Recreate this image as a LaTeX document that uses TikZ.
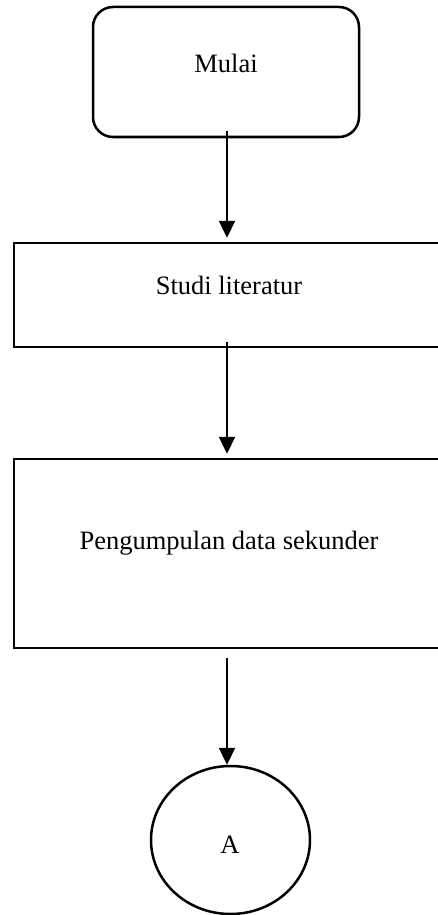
\documentclass[tikz,border=0pt]{standalone}
\usepackage{fontspec}
\setmainfont{Liberation Serif}
\usetikzlibrary{arrows.meta,shapes.geometric}
\begin{document}
\begin{tikzpicture}[x=1pt,y=-1pt,
  shp/.style={draw=black,line width=2.5pt,inner sep=0pt},
  txt/.style={inner sep=0pt,font=\fontsize{26.5}{30}\selectfont},
  arr/.style={draw=black,line width=2.3pt,-{Triangle[width=16pt,length=17pt]}}]
\useasboundingbox (0,0) rectangle (437,915);
\node[shp,rounded corners=20pt,minimum width=266pt,minimum height=130pt] (m) at (226,72) {};
\node[txt] (mt) at (226,63) {Mulai};
\node[shp,minimum width=426pt,minimum height=104pt] (s) at (227,295) {};
\node[txt] (st) at (229,285) {Studi literatur};
\node[shp,minimum width=426pt,minimum height=189pt] (p) at (227,553.5) {};
\node[txt] (pt) at (229,543) {Pengumpulan data sekunder};
\node[shp,ellipse,minimum width=159pt,minimum height=148pt] (a) at (230.5,840) {};
\node[txt] (at) at (230,845) {A};
\draw[arr] ([xshift=1pt,yshift=7pt]m.south) -- ([yshift=4pt]s.north);
\draw[arr] ([yshift=6pt]s.south) -- ([yshift=4pt]p.north);
\draw[arr] ([yshift=-9pt]p.south) -- ([xshift=-3.5pt]a.north);
\end{tikzpicture}
\end{document}
